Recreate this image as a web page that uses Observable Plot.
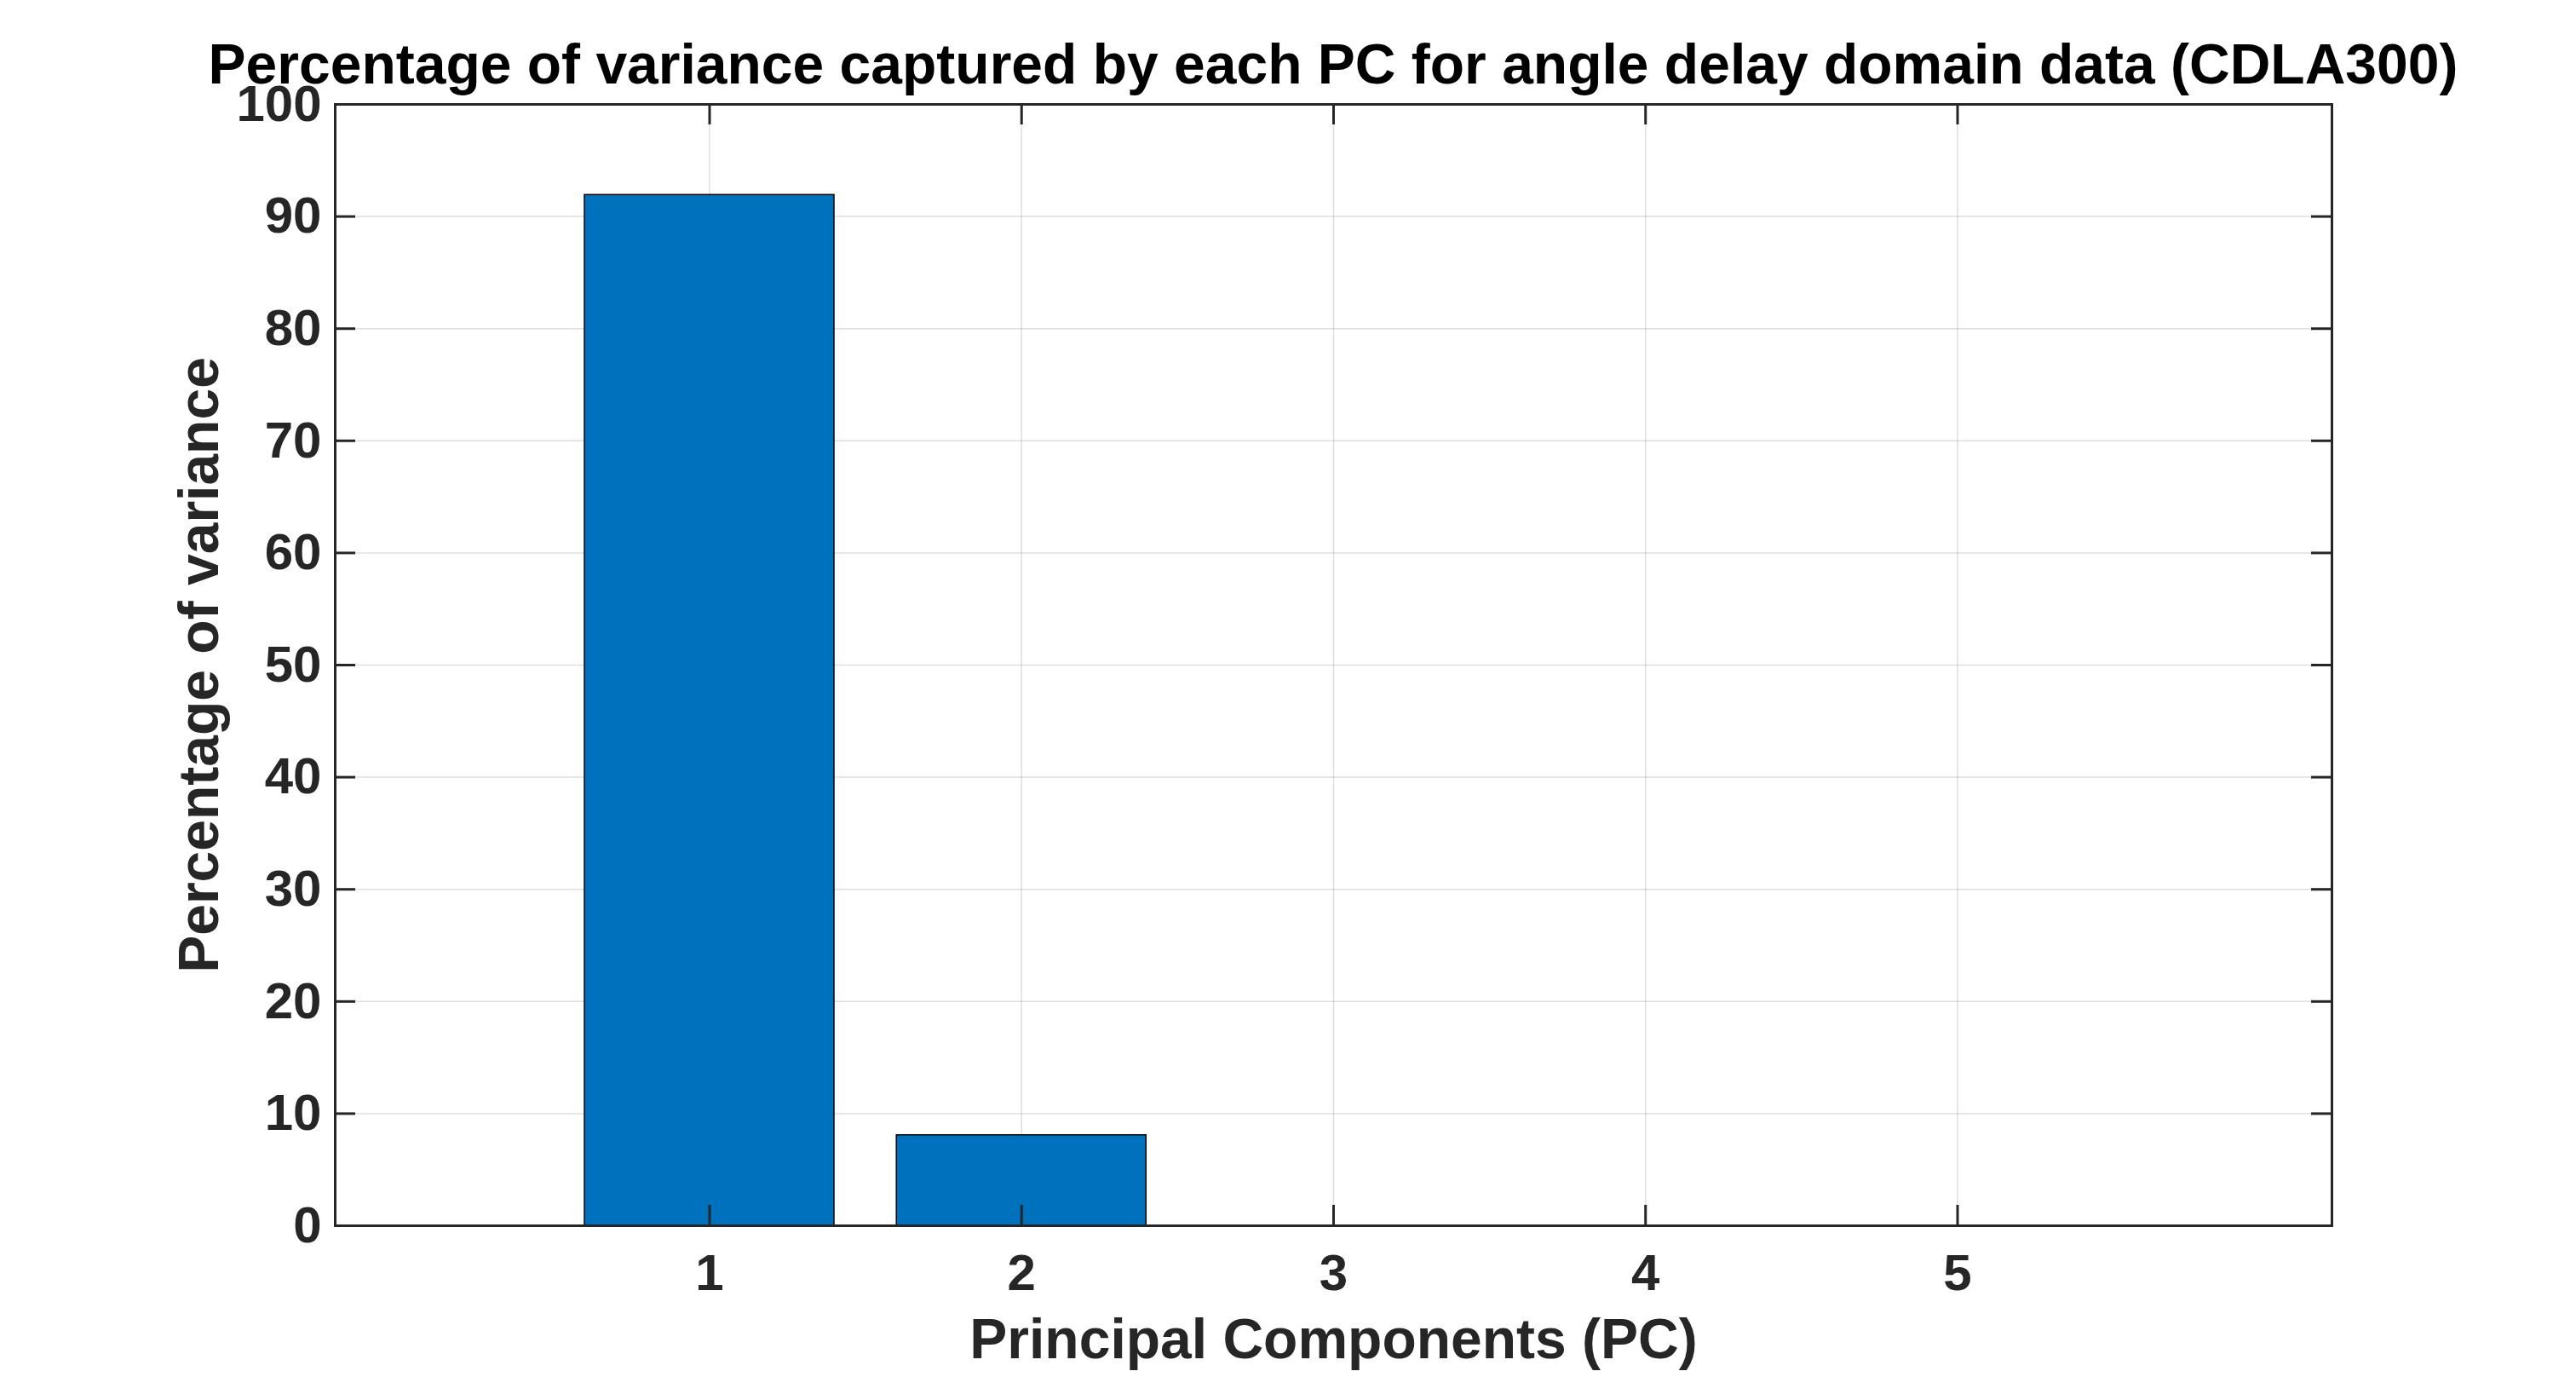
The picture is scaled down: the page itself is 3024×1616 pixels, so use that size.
<!DOCTYPE html>
<html>
<head>
<meta charset="utf-8">
<script src="https://cdn.jsdelivr.net/npm/d3@7"></script>
<script src="https://cdn.jsdelivr.net/npm/@observablehq/plot@0.6"></script>
<style>
  html, body { margin: 0; padding: 0; background: #ffffff; }
  #title {
    position: relative; z-index: 2; box-sizing: border-box;
    width: 3024px; height: 96px; padding: 42px 0 0 106px;
    font: bold 66px/66px "Liberation Sans", Arial, sans-serif;
    color: #000000; text-align: center; white-space: nowrap;
  }
  #chart svg { overflow: visible; }
</style>
</head>
<body>
<div id="title">Percentage of variance captured by each PC for angle delay domain data (CDLA300)</div>
<div id="chart"></div>
<script>
// ---- data ----
const components = [1, 2, 3, 4, 5];
const variance = [91.92, 8.07, 0.01, 0, 0];
const xTicks = [1, 2, 3, 4, 5];
const yTicks = [0, 10, 20, 30, 40, 50, 60, 70, 80, 90, 100];
const xDomain = [-0.2, 6.2];
const yDomain = [0, 100];
const xLabel = "Principal Components (PC)";
const yLabel = "Percentage of variance";

// ---- layout / style ----
const W = 3024, H = 1520;
const mTop = 26, mBottom = 178, mLeft = 393, mRight = 287;
const plotW = W - mLeft - mRight, plotH = H - mTop - mBottom;
const tickLen = 24;
const barHalf = 0.4;
const axisColor = "#262626";

const data = components.map((pc, i) => ({pc, value: variance[i]}));

const chart = Plot.plot({
  width: W, height: H,
  marginTop: mTop, marginBottom: mBottom, marginLeft: mLeft, marginRight: mRight,
  x: {type: "linear", domain: xDomain},
  y: {type: "linear", domain: yDomain},
  style: {
    fontFamily: "'Liberation Sans', Arial, sans-serif",
    fontSize: "60px", fontWeight: "bold", color: axisColor, background: "white"
  },
  marks: [
    Plot.gridX(xTicks, {stroke: axisColor, strokeOpacity: 0.15, strokeWidth: 1.5}),
    Plot.gridY(yTicks, {stroke: axisColor, strokeOpacity: 0.15, strokeWidth: 1.5}),
    Plot.rectY(data, {
      x1: d => d.pc - barHalf, x2: d => d.pc + barHalf,
      y1: 0, y2: "value",
      fill: "#0072BD", stroke: "#000000", strokeWidth: 1.5
    }),
    Plot.tickX(xTicks, {x: d => d, stroke: axisColor, strokeWidth: 3, insetTop: plotH - tickLen}),
    Plot.tickX(xTicks, {x: d => d, stroke: axisColor, strokeWidth: 3, insetBottom: plotH - tickLen}),
    Plot.tickY(yTicks, {y: d => d, stroke: axisColor, strokeWidth: 3, insetRight: plotW - tickLen}),
    Plot.tickY(yTicks, {y: d => d, stroke: axisColor, strokeWidth: 3, insetLeft: plotW - tickLen}),
    Plot.frame({stroke: axisColor, strokeWidth: 3}),
    Plot.axisX(xTicks, {tickSize: 0, tickPadding: 33, label: null, fill: axisColor, tickFormat: d => String(d)}),
    Plot.axisY(yTicks, {tickSize: 0, tickPadding: 16, label: null, fill: axisColor, tickFormat: d => String(d)}),
    Plot.text([xLabel], {text: d => d, frameAnchor: "bottom", dy: 134,
      textAnchor: "middle", lineAnchor: "middle",
      fontSize: 66, fontWeight: "bold", fill: axisColor}),
    Plot.text([yLabel], {text: d => d, frameAnchor: "left", dx: -159, rotate: -90,
      textAnchor: "middle", lineAnchor: "middle",
      fontSize: 66, fontWeight: "bold", fill: axisColor})
  ]
});
document.getElementById("chart").appendChild(chart);
</script>
</body>
</html>
